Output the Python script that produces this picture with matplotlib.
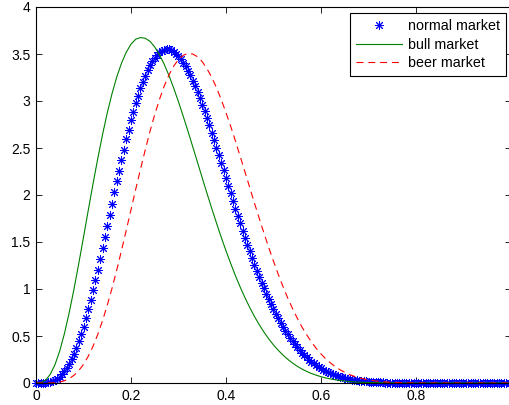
import numpy as np
import matplotlib
matplotlib.use("Agg")
import matplotlib.pyplot as plt

# values (density curves on [0, 1])
x_normal = np.linspace(0, 1, 201)
normal_market = [
    0.0, 0.0, 0.0002, 0.0008, 0.0024, 0.0054, 0.0107, 0.0188, 0.0303, 0.0460,
    0.0663, 0.0917, 0.1229, 0.160, 0.204, 0.254, 0.310, 0.373, 0.443, 0.519,
    0.601, 0.689, 0.783, 0.881, 0.985, 1.092, 1.202, 1.317, 1.433, 1.550,
    1.670, 1.790, 1.908, 2.028, 2.145, 2.260, 2.373, 2.482, 2.591, 2.694,
    2.793, 2.886, 2.977, 3.057, 3.133, 3.203, 3.268, 3.326, 3.381, 3.425,
    3.462, 3.492, 3.518, 3.535, 3.547, 3.550, 3.548, 3.538, 3.524, 3.503,
    3.477, 3.445, 3.408, 3.369, 3.321, 3.272, 3.214, 3.156, 3.094, 3.029,
    2.959, 2.889, 2.814, 2.740, 2.663, 2.584, 2.505, 2.424, 2.343, 2.261,
    2.179, 2.097, 2.017, 1.936, 1.856, 1.776, 1.698, 1.622, 1.546, 1.472,
    1.400, 1.329, 1.260, 1.194, 1.129, 1.066, 1.006, 0.947, 0.891, 0.836,
    0.785, 0.734, 0.687, 0.641, 0.598, 0.556, 0.517, 0.480, 0.445, 0.411,
    0.380, 0.350, 0.322, 0.296, 0.272, 0.249, 0.228, 0.208, 0.189, 0.172,
    0.156, 0.141, 0.128, 0.115, 0.104, 0.093, 0.084, 0.075, 0.067, 0.060,
    0.053, 0.047, 0.042, 0.037, 0.032, 0.028, 0.025, 0.022, 0.019, 0.016,
    0.014, 0.012, 0.011, 0.009, 0.008, 0.007, 0.006, 0.005, 0.004, 0.003,
    0.003, 0.002, 0.002, 0.002, 0.001, 0.001, 0.001, 0.001, 0.001, 0.0,
    0.0, 0.0, 0.0, 0.0, 0.0, 0.0, 0.0, 0.0, 0.0, 0.0,
    0.0, 0.0, 0.0, 0.0, 0.0, 0.0, 0.0, 0.0, 0.0, 0.0,
    0.0, 0.0, 0.0, 0.0, 0.0, 0.0, 0.0, 0.0, 0.0, 0.0,
    0.0, 0.0, 0.0, 0.0, 0.0, 0.0, 0.0, 0.0, 0.0, 0.0,
    0.0,
]

x_lines = np.linspace(0, 1, 101)
bull_market = [
    0.0, 0.004, 0.030, 0.092, 0.196, 0.342, 0.529, 0.751, 1.000, 1.270,
    1.551, 1.837, 2.118, 2.386, 2.641, 2.873, 3.077, 3.256, 3.402, 3.519,
    3.604, 3.658, 3.675, 3.667, 3.635, 3.574, 3.492, 3.390, 3.270, 3.136,
    2.991, 2.837, 2.678, 2.513, 2.348, 2.182, 2.017, 1.857, 1.701, 1.550,
    1.406, 1.270, 1.140, 1.019, 0.907, 0.803, 0.707, 0.620, 0.541, 0.469,
    0.405, 0.348, 0.297, 0.252, 0.213, 0.178, 0.148, 0.123, 0.101, 0.083,
    0.067, 0.054, 0.043, 0.034, 0.027, 0.021, 0.016, 0.012, 0.009, 0.007,
    0.005, 0.004, 0.003, 0.002, 0.001, 0.001, 0.001, 0.0, 0.0, 0.0,
    0.0, 0.0, 0.0, 0.0, 0.0, 0.0, 0.0, 0.0, 0.0, 0.0,
    0.0, 0.0, 0.0, 0.0, 0.0, 0.0, 0.0, 0.0, 0.0, 0.0,
    0.0,
]
beer_market = [
    0.0, 0.0, 0.0002, 0.0011, 0.004, 0.011, 0.024, 0.047, 0.082, 0.132,
    0.198, 0.284, 0.390, 0.516, 0.662, 0.827, 1.007, 1.203, 1.410, 1.625,
    1.843, 2.063, 2.275, 2.480, 2.678, 2.856, 3.018, 3.160, 3.278, 3.372,
    3.442, 3.486, 3.507, 3.500, 3.471, 3.418, 3.343, 3.252, 3.141, 3.015,
    2.876, 2.729, 2.572, 2.409, 2.245, 2.079, 1.913, 1.751, 1.594, 1.441,
    1.295, 1.156, 1.026, 0.904, 0.793, 0.690, 0.595, 0.512, 0.436, 0.368,
    0.309, 0.257, 0.213, 0.174, 0.141, 0.114, 0.090, 0.071, 0.056, 0.043,
    0.033, 0.025, 0.018, 0.013, 0.010, 0.007, 0.005, 0.003, 0.002, 0.001,
    0.001, 0.0, 0.0, 0.0, 0.0, 0.0, 0.0, 0.0, 0.0, 0.0,
    0.0, 0.0, 0.0, 0.0, 0.0, 0.0, 0.0, 0.0, 0.0, 0.0,
    0.0,
]

labels = ["normal market", "bull market", "beer market"]
x_ticks = [0, 0.2, 0.4, 0.6, 0.8, 1]
# the "1" label falls past the right edge of the picture
x_ticklabels = ["0", "0.2", "0.4", "0.6", "0.8", ""]
y_ticks = [0, 0.5, 1, 1.5, 2, 2.5, 3, 3.5, 4]
y_ticklabels = ["0", "0.5", "1", "1.5", "2", "2.5", "3", "3.5", "4"]

plt.rcParams["font.family"] = ["Liberation Sans", "DejaVu Sans"]
plt.rcParams["font.size"] = 10
plt.rcParams["lines.scale_dashes"] = False

W, H = 510, 405
fig = plt.figure(figsize=(W / 100, H / 100), dpi=100)
ax = fig.add_axes([36 / W, 1 - 383 / H, 475 / W, 376 / H])

# asterisk marker like matlab '*'
ax.plot(x_normal, normal_market, linestyle="none", marker=(8, 2, 0),
        markersize=6.5, markeredgewidth=0.7, color=(0, 0, 1), clip_on=False,
        label=labels[0])
ax.plot(x_lines, bull_market, color=(0, 0.5, 0), linewidth=0.8, label=labels[1])
ax.plot(x_lines, beer_market, color=(1, 0, 0), linewidth=0.8,
        dashes=(5, 3.5), label=labels[2])

ax.set_xlim(0, 1)
ax.set_ylim(0, 4)
ax.set_xticks(x_ticks)
ax.set_xticklabels(x_ticklabels)
ax.set_yticks(y_ticks)
ax.set_yticklabels(y_ticklabels)
ax.tick_params(direction="in", length=4, width=0.6, top=True, right=True,
               pad=4)
for s in ax.spines.values():
    s.set_linewidth(0.8)

leg = ax.legend(loc="upper right", bbox_to_anchor=(506 / W, 1 - 13 / H),
                bbox_transform=fig.transFigure, borderaxespad=0,
                fancybox=False, framealpha=1, edgecolor="black",
                numpoints=1, handlelength=3.2, handletextpad=0.4,
                borderpad=0.45, labelspacing=0.3, fontsize=10.3)
leg.get_frame().set_linewidth(0.8)

fig.savefig("out.png", dpi=100)
